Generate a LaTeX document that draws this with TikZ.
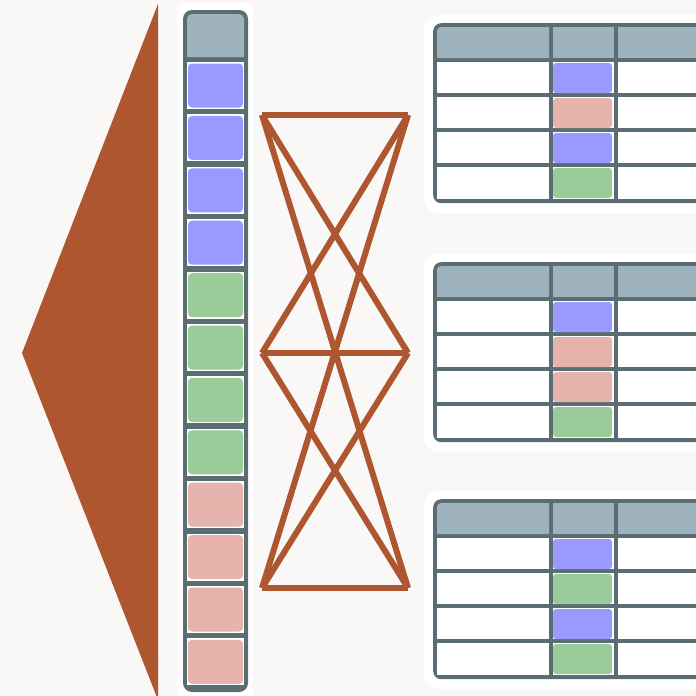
\documentclass[tikz,border=0pt]{standalone}
\usetikzlibrary{positioning}
\definecolor{paper}{HTML}{FAF8F6}
\definecolor{rust}{HTML}{AD5630}
\definecolor{slate}{HTML}{5A6D73}
\definecolor{headgray}{HTML}{9EB3BD}
\definecolor{cblue}{HTML}{9999FF}
\definecolor{cgreen}{HTML}{99CC99}
\definecolor{cred}{HTML}{E6B3AD}
\tikzset{
  slotcell/.style={fill=#1, rounded corners=4pt, minimum width=55pt, minimum height=44pt, inner sep=0pt},
  rowcell/.style={fill=#1, rounded corners=3pt, minimum width=59pt, minimum height=30pt, inner sep=0pt},
  link/.style={draw=rust, line width=6pt}
}

\begin{document}
\begin{tikzpicture}[x=1pt, y=-1pt]
  \useasboundingbox (0,0) rectangle (696,696);
  \fill[paper] (0,0) rectangle (696,696);
  \clip (0,0) rectangle (696,696);

  % big wedge on the left
  \fill[rust] (22,353) -- (158,4) -- (158,700) -- cycle;

  % vertical stack of slots
  \fill[white, rounded corners=3] (177,3) rectangle (253,700);
  \node[fill=slate, rounded corners=9pt, minimum width=65pt, minimum height=682pt, inner sep=0pt] (col) at (215.5,351) {};
  \fill[headgray] (187,57) [rounded corners=5] -- (187,14) -- (244,14) [sharp corners] -- (244,57) -- cycle;
  \foreach \c [count=\i from 0] in {cblue,cblue,cblue,cblue,cgreen,cgreen,cgreen,cgreen,cred,cred,cred,cred}{
    \pgfmathsetmacro\y{62+52.4*\i}
    \fill[white] (187,\y) rectangle ++(57,47);
    \node[slotcell=\c] (s\i) at (215.5,\y+23.5) {};
  }

  % fully connected layer
  \coordinate (l1) at (262,115);
  \coordinate (l2) at (262,353);
  \coordinate (l3) at (262,588);
  \coordinate (r1) at (408,115);
  \coordinate (r2) at (408,353);
  \coordinate (r3) at (408,588);
  \foreach \a in {1,2,3}
    \foreach \b in {1,2,3}
      \draw[link] (l\a) -- (r\b);

  % three tables
  \foreach \t/\name/\ca/\cb/\cc/\cd in {23/ta/cblue/cred/cblue/cgreen, 262/tb/cblue/cred/cred/cgreen, 499/tc/cblue/cgreen/cblue/cgreen}{
    \fill[white, rounded corners=14] (424,\t-8) rectangle (730,\t+190);
    \node[fill=slate, rounded corners=8pt, minimum width=297pt, minimum height=180pt, inner sep=0pt, anchor=north west] (\name) at (433,\t) {};
    \fill[headgray] (437,\t+35) [rounded corners=4] -- (437,\t+4) [sharp corners] -- (549,\t+4) -- (549,\t+35) -- cycle;
    \fill[headgray] (553,\t+4) rectangle (614,\t+35);
    \fill[headgray] (618,\t+4) rectangle (730,\t+35);
    \foreach \r/\h in {39/31,74/31,109/31,144/32}{
      \fill[white] (437,\t+\r) rectangle ++(112,\h);
      \fill[white] (553,\t+\r) rectangle ++(61,\h);
      \fill[white] (618,\t+\r) rectangle ++(112,\h);
    }
    \node[rowcell=\ca] (\name-1) at (582.5,\t+55) {};
    \node[rowcell=\cb] (\name-2) at (582.5,\t+90) {};
    \node[rowcell=\cc] (\name-3) at (582.5,\t+125) {};
    \node[rowcell=\cd] (\name-4) at (582.5,\t+160) {};
  }
\end{tikzpicture}
\end{document}
